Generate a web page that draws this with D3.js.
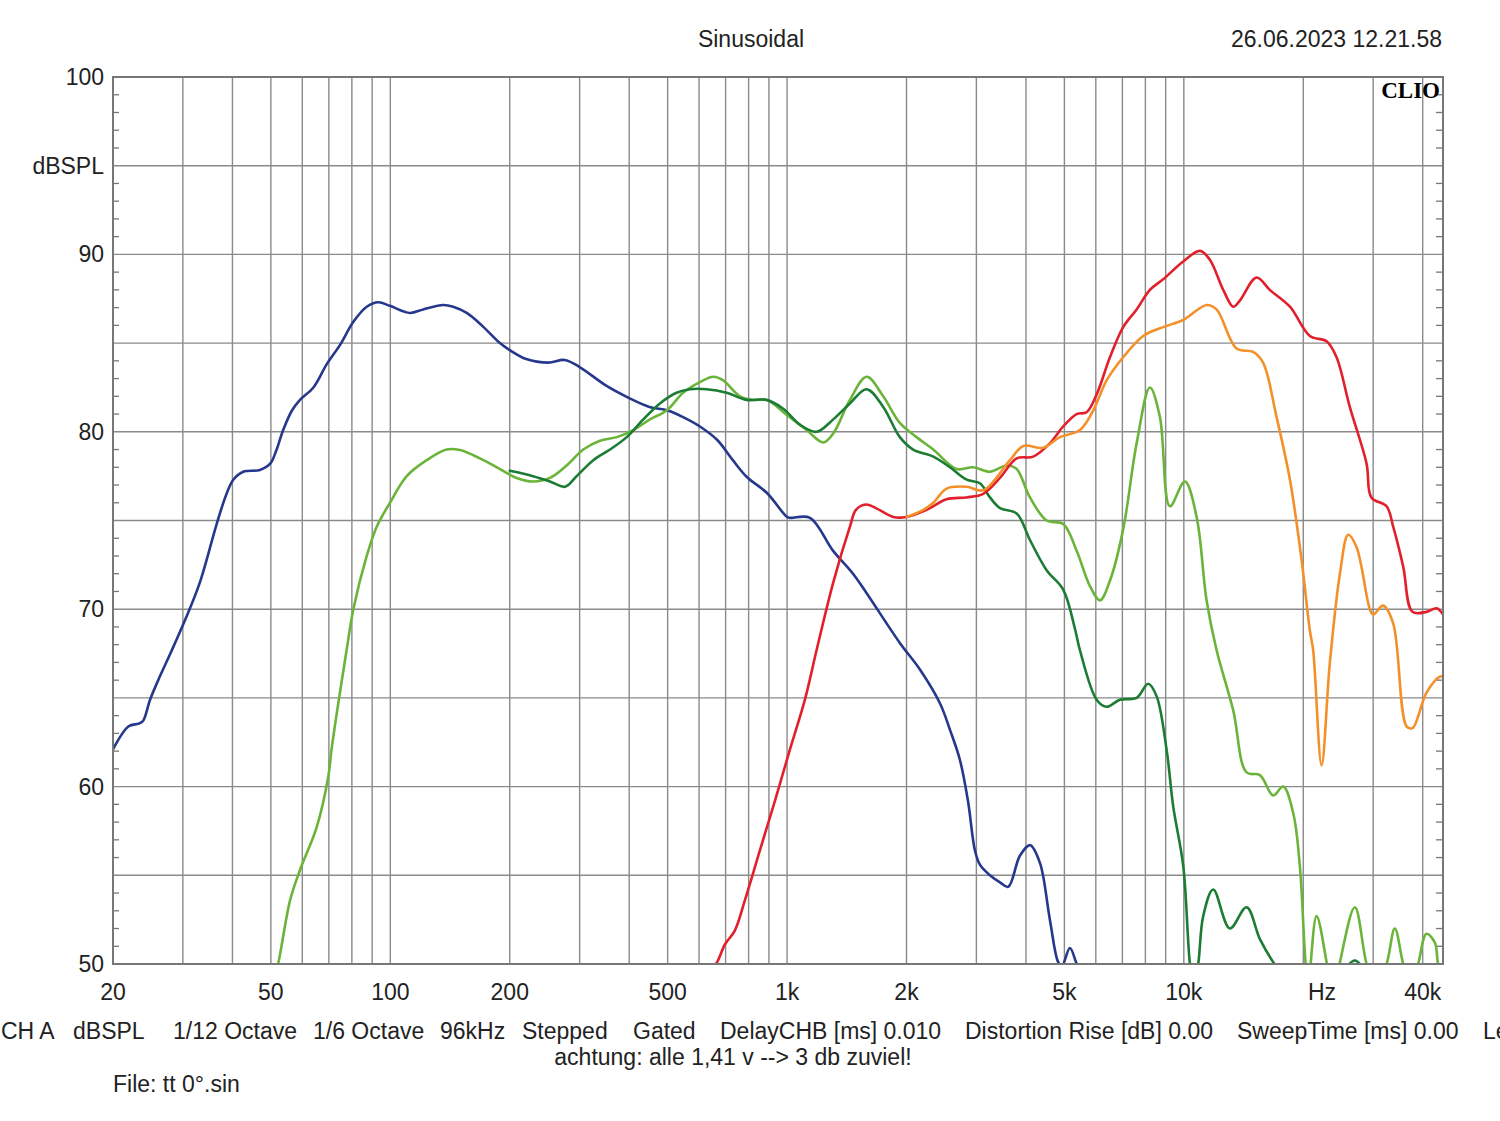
<!DOCTYPE html>
<html><head><meta charset="utf-8">
<script src="https://cdn.jsdelivr.net/npm/d3@7"></script>
<style>
body{margin:0;background:#fff}
svg{display:block}
text{font-family:"Liberation Sans",Arial,sans-serif;fill:#222}
</style>
</head><body>
<svg id="chart" width="1500" height="1121"></svg>
<script>
// ---------- data ----------
const freqDomain = [20, 45000];
const dbDomain = [50, 100];
const xTickValues = [20, 50, 100, 200, 500, 1000, 2000, 5000, 10000, 40000];
const xTickLabels = ["20", "50", "100", "200", "500", "1k", "2k", "5k", "10k", "40k"];
const xUnitFreq = 22300, xUnitText = "Hz";
const yTickValues = [50, 60, 70, 80, 90, 100];
const yUnitValue = 95, yUnitText = "dBSPL";
const gridFreqs = [20,30,40,50,60,70,80,90,100,200,300,400,500,600,700,800,900,1000,
  2000,3000,4000,5000,6000,7000,8000,9000,10000,20000,30000,40000];
const gridDb = [50,55,60,65,70,75,80,85,90,95,100];
const minorDb = [51,52,53,54,56,57,58,59,61,62,63,64,66,67,68,69,71,72,73,74,76,77,78,79,
  81,82,83,84,86,87,88,89,91,92,93,94,96,97,98,99];

// series: [frequency Hz, dB SPL]
const blueSeries = [[20,62.1],[21.9,63.4],[23.2,63.55],[23.8,63.7],[24.8,64.9],[26,66.0],[27.9,67.5],
  [30.4,69.4],[33.1,71.5],[36.5,74.8],[38.5,76.4],[40.2,77.3],[42.6,77.75],[46.9,77.85],[49.8,78.2],
  [51.5,78.9],[53.7,80.1],[56.5,81.2],[59.2,81.8],[64,82.5],[69.1,83.8],[74.7,84.9],[80.7,86.2],
  [87.2,87.05],[93.3,87.3],[99.8,87.1],[112,86.7],[121,86.9],[136,87.15],[144,87.05],[155.8,86.7],
  [170,86.0],[188.9,85.0],[200,84.6],[220,84.1],[250,83.9],[275,84.05],[300,83.65],[350,82.6],
  [400,81.9],[450,81.4],[500,81.2],[550,80.8],[603,80.3],[666,79.55],[730,78.4],[792,77.45],
  [890,76.55],[1000,75.2],[1020,75.15],[1142,75.15],[1305,73.3],[1466,72.0],[1587,70.9],[1924,68.1],
  [2162,66.6],[2428,64.7],[2574,63.2],[2727,61.5],[2857,59.2],[2975,56.4],[3062,55.6],[3246,55.0],
  [3440,54.6],[3608,54.35],[3862,56.1],[4094,56.7],[4338,55.7],[4596,52.5],[4824,50.1],[4930,49.9],
  [5162,50.9],[5350,50.1],[5500,49.4]];

const lightGreenSeries = [[51,49.3],[52.2,50.06],[55.9,53.6],[59.2,55.3],[65.2,57.7],[69.8,60.6],
  [71.1,62.1],[77.6,67.7],[80.7,70.0],[87.2,73.0],[92.4,74.65],[99.8,76.0],[110,77.5],[123.5,78.4],
  [138.7,79.0],[149.8,78.97],[168.2,78.5],[188.9,77.9],[208.2,77.4],[228.9,77.2],[252.6,77.4],
  [278.2,78.1],[306.4,79.0],[337.6,79.5],[372,79.7],[409.6,80.1],[451,80.7],[497,81.2],[547,82.2],
  [603,82.8],[652,83.1],[690,82.9],[761,82.0],[822,81.8],[888,81.8],[998,80.95],[1120,80.1],
  [1234,79.4],[1307,79.9],[1440,81.8],[1587,83.1],[1747,82.0],[1924,80.5],[2120,79.7],[2336,79.0],
  [2676,77.9],[2946,78.0],[3246,77.75],[3577,78.1],[3790,77.9],[4094,76.3],[4510,75.0],[4966,74.8],
  [5368,73.3],[5800,71.3],[6146,70.5],[6512,71.6],[7032,74.5],[7604,79.35],[8212,82.5],[8702,80.85],
  [9222,75.8],[10060,77.2],[10770,75.2],[11410,70.5],[12090,67.7],[13320,64.3],[14390,60.8],
  [15550,60.65],[16800,59.5],[17800,60.0],[18870,58.5],[19610,55.5],[20190,50.6],[20540,48.6],
  [21600,52.7],[22900,50.1],[23700,48.0],[24740,50.1],[26980,53.2],[28880,50.0],[30480,48.6],
  [32440,50.0],[34020,52.0],[35720,50.0],[37340,48.6],[38960,50.0],[40900,51.7],[42940,51.2],
  [43760,50.0],[45000,49.4]];

const darkGreenSeries = [[200,77.8],[228.9,77.5],[252.6,77.2],[275.6,76.9],[294.9,77.5],[324.7,78.4],
  [357.8,79.0],[394.3,79.7],[434.1,80.7],[478.1,81.6],[526.7,82.2],[569.3,82.4],[627,82.4],[704.3,82.2],
  [790.8,81.8],[888,81.8],[978,81.3],[1077,80.4],[1187,80.0],[1307,80.7],[1440,81.6],[1587,82.4],
  [1747,81.4],[1924,79.7],[2078,79.0],[2336,78.6],[2574,78.0],[2835,77.3],[3062,77.1],[3246,76.3],
  [3440,75.7],[3790,75.4],[4094,73.9],[4510,72.2],[4966,71.1],[5315,68.9],[5470,67.7],[6028,64.9],
  [6388,64.5],[6900,64.9],[7604,65.0],[8130,65.8],[8537,65.1],[9046,62.1],[9400,58.9],[9968,55.5],
  [10360,50.0],[10580,48.8],[10870,50.0],[11190,52.7],[11860,54.2],[13060,52.0],[14390,53.2],
  [15550,51.4],[16800,50.1],[18510,48.8],[22000,48.3],[24740,49.4],[26980,50.2],[29100,49.4],
  [33000,48.2]];

const redSeries = [[631,49.5],[664,50.05],[697,51.1],[739,51.9],[783,53.6],[854,56.4],[932,59.2],
  [1017,62.1],[1109,64.9],[1187,67.7],[1307,71.5],[1440,74.65],[1491,75.6],[1580,75.9],[1674,75.7],
  [1852,75.2],[2001,75.2],[2248,75.6],[2524,76.2],[2835,76.3],[3121,76.5],[3440,77.4],[3790,78.5],
  [4172,78.6],[4596,79.35],[4966,80.3],[5368,81.0],[5688,81.1],[6028,82.1],[6512,84.2],[7032,85.9],
  [7604,86.9],[8212,88.0],[8872,88.6],[9962,89.6],[10980,90.2],[11630,89.7],[12570,88.0],[13320,87.05],
  [13840,87.4],[15250,88.7],[16470,88.0],[18510,87.05],[20780,85.4],[22900,85.1],[24260,84.2],
  [26200,81.4],[28880,78.2],[29690,76.3],[32440,75.8],[33700,74.65],[35720,72.4],[37690,69.85],
  [40900,69.85],[43360,70.05],[45000,69.7]];

const orangeSeries = [[2001,75.2],[2204,75.6],[2336,76.0],[2524,76.8],[2835,76.9],[3121,76.7],
  [3644,78.4],[3938,79.2],[4422,79.1],[4871,79.7],[5470,80.1],[5910,81.2],[6388,82.9],[7032,84.2],
  [7900,85.4],[8872,85.9],[9962,86.3],[11410,87.15],[12090,86.9],[13580,84.7],[14950,84.5],
  [15840,83.9],[17120,80.85],[18510,77.3],[19800,72.8],[20780,68.8],[21180,67.7],[22240,61.2],
  [23340,67.0],[24740,72.0],[25960,74.2],[27240,73.5],[29440,70.0],[30020,69.7],[31800,70.2],
  [33700,69.2],[36420,63.4],[37690,63.3],[40900,65.3],[44200,66.2],[45000,66.2]];

const seriesList = [
  {data: blueSeries, color: "#26388c"},
  {data: lightGreenSeries, color: "#6bb43a"},
  {data: darkGreenSeries, color: "#1c7c34"},
  {data: redSeries, color: "#e2202c"},
  {data: orangeSeries, color: "#f3902a"}
];

// ---------- chart ----------
const svg = d3.select("#chart");
const L = 113, R = 1443, T = 77, B = 964;
const x = d3.scaleLog().domain(freqDomain).range([L, R]);
const y = d3.scaleLinear().domain(dbDomain).range([B, T]);
const FS = 23;

const gridColor = "#8a8a8a";
svg.append("g").selectAll("line").data(gridFreqs).join("line")
  .attr("x1", d => x(d)).attr("x2", d => x(d)).attr("y1", T).attr("y2", B)
  .attr("stroke", gridColor).attr("stroke-width", 1.4);
svg.append("g").selectAll("line").data(gridDb).join("line")
  .attr("x1", L).attr("x2", R).attr("y1", d => y(d)).attr("y2", d => y(d))
  .attr("stroke", gridColor).attr("stroke-width", 1.4);
svg.append("g").selectAll("line").data(minorDb).join("line")
  .attr("x1", L).attr("x2", L + 6).attr("y1", d => y(d)).attr("y2", d => y(d))
  .attr("stroke", "#777").attr("stroke-width", 1.3);
svg.append("g").selectAll("line").data(minorDb).join("line")
  .attr("x1", R - 7).attr("x2", R).attr("y1", d => y(d)).attr("y2", d => y(d))
  .attr("stroke", "#777").attr("stroke-width", 1.3);

svg.append("clipPath").attr("id", "plotclip").append("rect")
  .attr("x", L).attr("y", T).attr("width", R - L).attr("height", B - T);

const line = d3.line().x(d => x(d[0])).y(d => y(d[1])).curve(d3.curveCatmullRom.alpha(0.5));
const gLines = svg.append("g").attr("clip-path", "url(#plotclip)");
seriesList.forEach(s => {
  gLines.append("path").attr("d", line(s.data)).attr("fill", "none")
    .attr("stroke", s.color).attr("stroke-width", 2.6)
    .attr("stroke-linejoin", "round").attr("stroke-linecap", "round");
});

svg.append("rect").attr("x", L).attr("y", T).attr("width", R - L).attr("height", B - T)
  .attr("fill", "none").attr("stroke", "#777").attr("stroke-width", 2);

// y labels
svg.append("g").selectAll("text").data(yTickValues).join("text")
  .attr("x", 104).attr("y", d => y(d) + 8).attr("text-anchor", "end")
  .attr("font-size", FS).text(d => d);
svg.append("text").attr("x", 104).attr("y", y(yUnitValue) + 8).attr("text-anchor", "end")
  .attr("font-size", FS).text(yUnitText);

// x labels
svg.append("g").selectAll("text").data(xTickValues).join("text")
  .attr("x", d => x(d)).attr("y", 1000).attr("text-anchor", "middle")
  .attr("font-size", FS).text((d, i) => xTickLabels[i]);
svg.append("text").attr("x", x(xUnitFreq)).attr("y", 1000).attr("text-anchor", "middle")
  .attr("font-size", FS).text(xUnitText);

// header
svg.append("text").attr("x", 751).attr("y", 47).attr("text-anchor", "middle")
  .attr("font-size", FS).text("Sinusoidal");
svg.append("text").attr("x", 1442).attr("y", 47).attr("text-anchor", "end")
  .attr("font-size", FS).text("26.06.2023 12.21.58");
svg.append("text").attr("x", 1440).attr("y", 98).attr("text-anchor", "end")
  .attr("font-size", 23).attr("font-weight", "bold")
  .style("font-family", "'Liberation Serif','Times New Roman',serif").style("fill", "#000")
  .text("CLIO");

// footer info (last item is cut by the window edge, as in the original)
const infoItems = [
  ["CH A", 1], ["dBSPL", 73], ["1/12 Octave", 173], ["1/6 Octave", 313], ["96kHz", 440],
  ["Stepped", 522], ["Gated", 633], ["DelayCHB [ms] 0.010", 720],
  ["Distortion Rise [dB] 0.00", 965], ["SweepTime [ms] 0.00", 1237], ["Le", 1483]
];
svg.append("g").selectAll("text").data(infoItems).join("text")
  .attr("x", d => d[1]).attr("y", 1039).attr("font-size", FS).text(d => d[0]);
svg.append("text").attr("x", 733).attr("y", 1065).attr("text-anchor", "middle")
  .attr("font-size", FS).text("achtung: alle 1,41 v --> 3 db zuviel!");
svg.append("text").attr("x", 113).attr("y", 1092).attr("font-size", FS).text("File: tt 0°.sin");
</script>
</body></html>
